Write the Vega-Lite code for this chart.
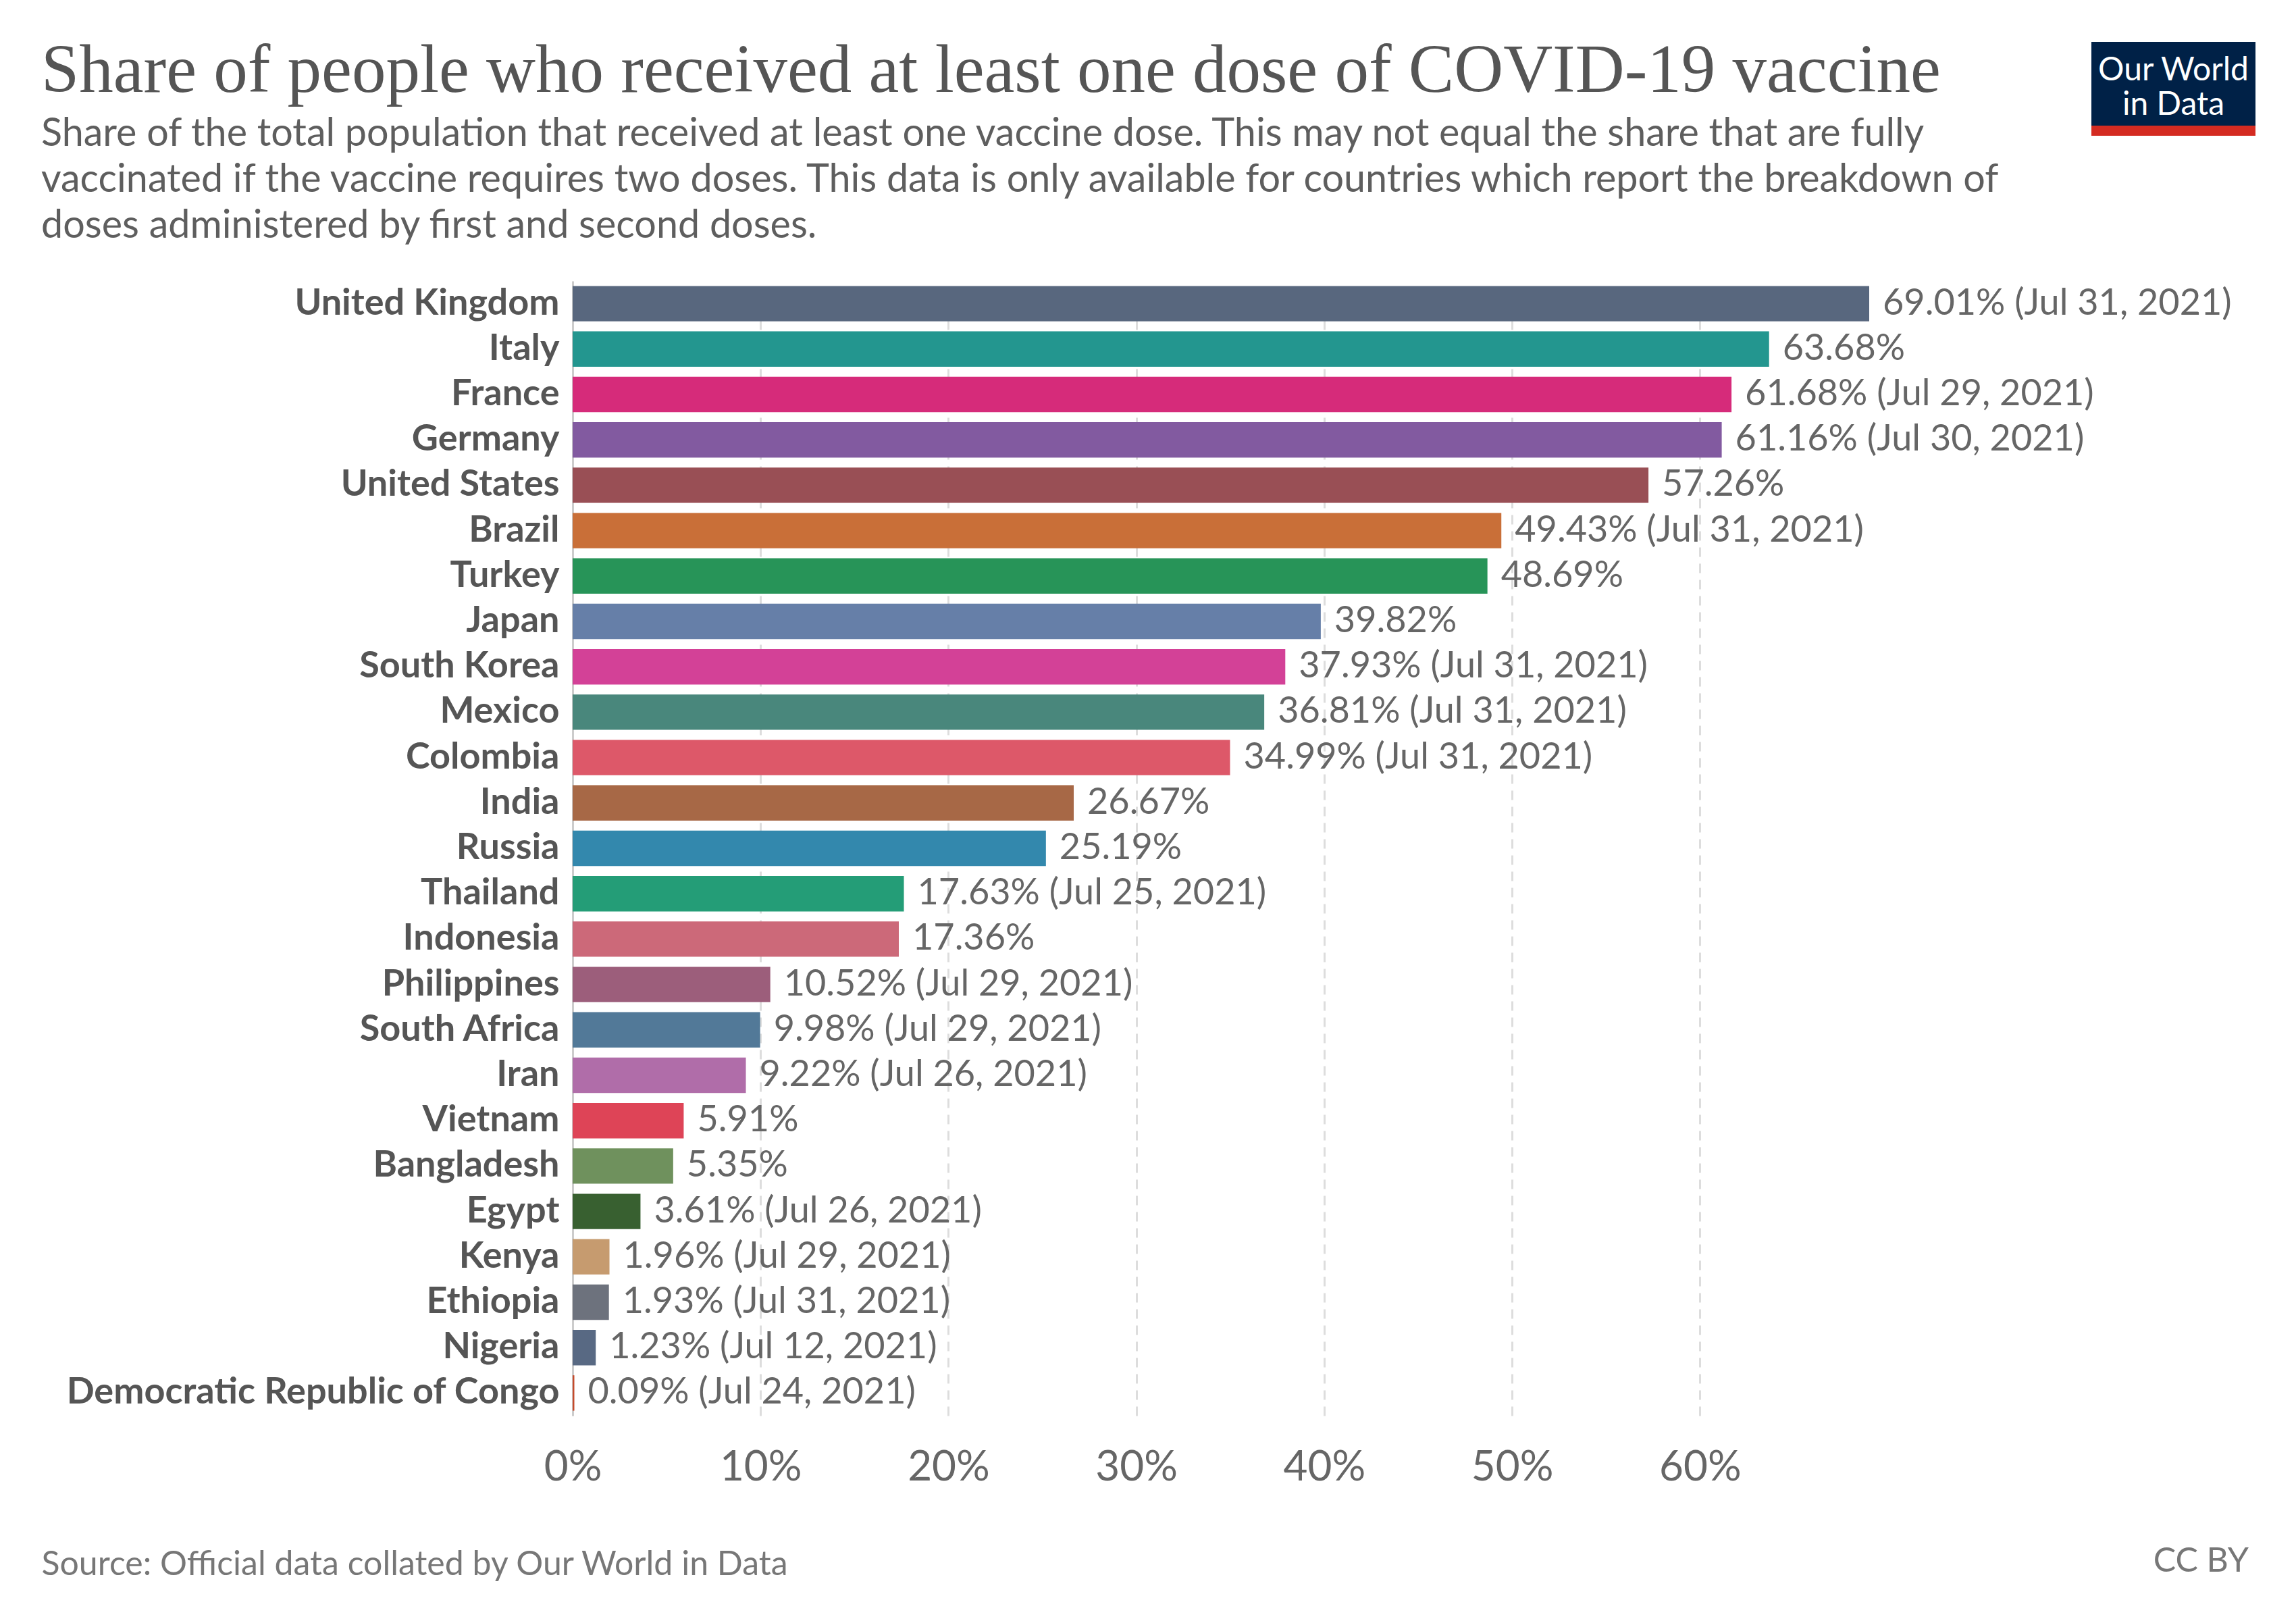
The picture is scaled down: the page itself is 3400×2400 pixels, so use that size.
{
  "$schema": "https://vega.github.io/schema/vega-lite/v6.json",
  "background": "white",
  "padding": {"left": 61, "top": 55, "right": 60, "bottom": 20},
  "bounds": "flush",
  "spacing": 354,
  "config": {"view": {"stroke": null}, "font": "Lato"},
  "vconcat": [
    {
      "bounds": "flush",
      "spacing": 0,
      "hconcat": [
        {
          "width": 2249,
          "height": 1,
          "data": {"values": []},
          "mark": {"type": "point", "opacity": 0},
          "title": {
            "text": "Share of people who received at least one dose of COVID-19 vaccine",
            "subtitle": [
              "Share of the total population that received at least one vaccine dose. This may not equal the share that are fully",
              "vaccinated if the vaccine requires two doses. This data is only available for countries which report the breakdown of",
              "doses administered by first and second doses."
            ],
            "orient": "bottom",
            "anchor": "start",
            "frame": "group",
            "dx": -787,
            "offset": -7,
            "font": "Liberation Serif",
            "fontSize": 101,
            "fontWeight": "normal",
            "color": "#555555",
            "subtitleFont": "Lato",
            "subtitleFontSize": 57.5,
            "subtitleColor": "#5e5e5e",
            "subtitleLineHeight": 68,
            "subtitlePadding": 14
          }
        },
        {
          "width": 243,
          "height": 139,
          "data": {"values": [{"name": "Our World\nin Data"}]},
          "layer": [
            {"mark": {"type": "rect", "color": "#002147"}, "encoding": {}},
            {
              "mark": {"type": "rect", "color": "#d42b21"},
              "encoding": {
                "y": {"datum": 0, "type": "quantitative", "scale": {"domain": [0, 139], "nice": false}, "axis": null},
                "y2": {"datum": 15}
              }
            },
            {
              "mark": {"type": "text", "color": "white", "font": "Lato", "fontSize": 48, "lineBreak": "\n", "lineHeight": 51, "align": "center", "baseline": "alphabetic", "dy": -13},
              "encoding": {"text": {"field": "name"}}
            }
          ]
        }
      ]
    },
    {
      "width": 1920,
      "height": 1680,
      "data": {
        "values": [
          {"country": "United Kingdom", "share": 69.01, "label": "69.01% (Jul 31, 2021)"},
          {"country": "Italy", "share": 63.68, "label": "63.68%"},
          {"country": "France", "share": 61.68, "label": "61.68% (Jul 29, 2021)"},
          {"country": "Germany", "share": 61.16, "label": "61.16% (Jul 30, 2021)"},
          {"country": "United States", "share": 57.26, "label": "57.26%"},
          {"country": "Brazil", "share": 49.43, "label": "49.43% (Jul 31, 2021)"},
          {"country": "Turkey", "share": 48.69, "label": "48.69%"},
          {"country": "Japan", "share": 39.82, "label": "39.82%"},
          {"country": "South Korea", "share": 37.93, "label": "37.93% (Jul 31, 2021)"},
          {"country": "Mexico", "share": 36.81, "label": "36.81% (Jul 31, 2021)"},
          {"country": "Colombia", "share": 34.99, "label": "34.99% (Jul 31, 2021)"},
          {"country": "India", "share": 26.67, "label": "26.67%"},
          {"country": "Russia", "share": 25.19, "label": "25.19%"},
          {"country": "Thailand", "share": 17.63, "label": "17.63% (Jul 25, 2021)"},
          {"country": "Indonesia", "share": 17.36, "label": "17.36%"},
          {"country": "Philippines", "share": 10.52, "label": "10.52% (Jul 29, 2021)"},
          {"country": "South Africa", "share": 9.98, "label": "9.98% (Jul 29, 2021)"},
          {"country": "Iran", "share": 9.22, "label": "9.22% (Jul 26, 2021)"},
          {"country": "Vietnam", "share": 5.91, "label": "5.91%"},
          {"country": "Bangladesh", "share": 5.35, "label": "5.35%"},
          {"country": "Egypt", "share": 3.61, "label": "3.61% (Jul 26, 2021)"},
          {"country": "Kenya", "share": 1.96, "label": "1.96% (Jul 29, 2021)"},
          {"country": "Ethiopia", "share": 1.93, "label": "1.93% (Jul 31, 2021)"},
          {"country": "Nigeria", "share": 1.23, "label": "1.23% (Jul 12, 2021)"},
          {"country": "Democratic Republic of Congo", "share": 0.09, "label": "0.09% (Jul 24, 2021)"}
        ]
      },
      "title": {
        "text": "CC BY",
        "orient": "bottom",
        "anchor": "end",
        "frame": "group",
        "dx": 562,
        "offset": -54,
        "font": "Lato",
        "fontSize": 50,
        "fontWeight": "normal",
        "color": "#777777"
      },
      "encoding": {
        "y": {
          "field": "country",
          "type": "nominal",
          "sort": null,
          "scale": {"paddingInner": 0.22, "paddingOuter": 0.11},
          "axis": {
            "title": null,
            "ticks": false,
            "grid": false,
            "domain": true,
            "domainColor": "#cccccc",
            "domainWidth": 3,
            "labelPadding": 20,
            "labelFont": "Lato",
            "labelFontWeight": "bold",
            "labelFontSize": 54,
            "labelColor": "#555555",
            "labelLimit": 0
          }
        },
        "x": {
          "field": "share",
          "type": "quantitative",
          "scale": {"domain": [0, 69.01], "nice": false, "zero": true},
          "axis": {
            "values": [0, 10, 20, 30, 40, 50, 60],
            "labelExpr": "datum.value + '%'",
            "labelFlush": false,
            "grid": true,
            "gridDash": [14, 10],
            "gridColor": "#dddddd",
            "gridWidth": 3,
            "domain": false,
            "ticks": false,
            "labelPadding": 46,
            "labelFont": "Lato",
            "labelFontSize": 62,
            "labelColor": "#666666",
            "title": "Source: Official data collated by Our World in Data",
            "titleFont": "Lato",
            "titleFontSize": 50,
            "titleFontWeight": "normal",
            "titleColor": "#777777",
            "titleAnchor": "start",
            "titleAlign": "left",
            "titleBaseline": "alphabetic",
            "titleX": -787,
            "titleY": 235
          }
        }
      },
      "layer": [
        {
          "mark": {"type": "bar"},
          "encoding": {
            "color": {
              "field": "country",
              "type": "nominal",
              "legend": null,
              "scale": {
                "domain": ["United Kingdom", "Italy", "France", "Germany", "United States", "Brazil", "Turkey", "Japan", "South Korea", "Mexico", "Colombia", "India", "Russia", "Thailand", "Indonesia", "Philippines", "South Africa", "Iran", "Vietnam", "Bangladesh", "Egypt", "Kenya", "Ethiopia", "Nigeria", "Democratic Republic of Congo"],
                "range": ["#58677e", "#23968f", "#d62b7a", "#825aa0", "#994f55", "#c96f38", "#279458", "#667fa8", "#d34197", "#49877c", "#dd5869", "#a76846", "#3388ad", "#249d77", "#cc6979", "#9c5e7b", "#527998", "#b06da9", "#de4457", "#6f915d", "#386030", "#c69b6f", "#6d727d", "#586983", "#c54a2b"]
              }
            }
          }
        },
        {
          "mark": {"type": "text", "align": "left", "baseline": "middle", "dx": 20, "font": "Lato", "fontSize": 54, "color": "#666666"},
          "encoding": {"text": {"field": "label"}}
        }
      ]
    }
  ]
}
